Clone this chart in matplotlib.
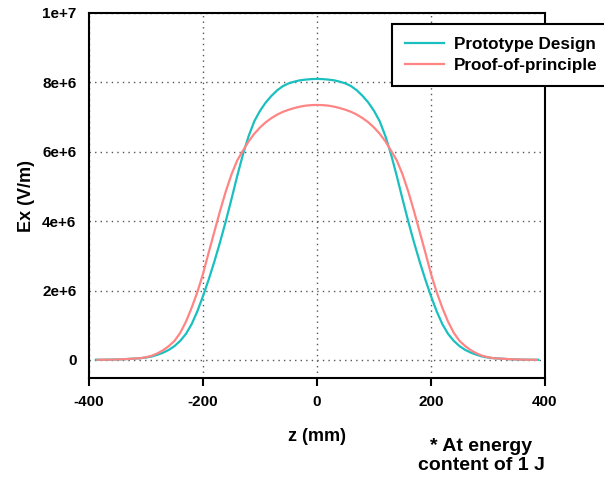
import matplotlib
matplotlib.use("Agg")
import matplotlib.pyplot as plt

plt.rcParams['font.family'] = ['Liberation Sans', 'DejaVu Sans']
plt.rcParams['font.weight'] = 'bold'

# z positions (mm), every ~10 mm
z_proto = [-388, -380, -370, -360, -350, -340, -330, -320, -310, -300, -290, -280, -270,
           -260, -250, -240, -230, -220, -210, -200, -190, -180, -170, -160, -150, -140,
           -130, -120, -110, -100, -90, -80, -70, -60, -50, -40, -30, -20, -10, 0,
           10, 20, 30, 40, 50, 60, 70, 80, 90, 100, 110, 120, 130, 140, 150, 160, 170,
           180, 190, 200, 210, 220, 230, 240, 250, 260, 270, 280, 290, 300, 310, 320,
           330, 340, 350, 360, 370, 380, 388]
# Ex (V/m), Prototype Design
ex_proto = [0.005e6, 0.006e6, 0.008e6, 0.01e6, 0.015e6, 0.02e6, 0.03e6, 0.04e6, 0.05e6,
            0.07e6, 0.10e6, 0.15e6, 0.21e6, 0.29e6, 0.40e6, 0.55e6, 0.75e6, 1.03e6,
            1.40e6, 1.84e6, 2.32e6, 2.84e6, 3.40e6, 4.00e6, 4.64e6, 5.30e6, 5.92e6,
            6.45e6, 6.88e6, 7.18e6, 7.42e6, 7.61e6, 7.77e6, 7.89e6, 7.97e6, 8.02e6,
            8.06e6, 8.08e6, 8.095e6, 8.10e6,
            8.095e6, 8.08e6, 8.06e6, 8.02e6, 7.97e6, 7.89e6, 7.77e6, 7.61e6, 7.42e6,
            7.18e6, 6.88e6, 6.45e6, 5.92e6, 5.30e6, 4.64e6, 4.00e6, 3.40e6, 2.84e6,
            2.32e6, 1.84e6, 1.40e6, 1.03e6, 0.75e6, 0.55e6, 0.40e6, 0.29e6, 0.21e6,
            0.15e6, 0.10e6, 0.07e6, 0.05e6, 0.04e6, 0.03e6, 0.02e6, 0.015e6, 0.01e6,
            0.008e6, 0.006e6, 0.005e6]

z_pop = [-385, -370, -360, -350, -340, -330, -320, -310, -300, -290, -280, -270, -260,
         -250, -240, -230, -220, -210, -200, -190, -180, -170, -160, -150, -140, -130,
         -120, -110, -100, -90, -80, -70, -60, -50, -40, -30, -20, -10, 0,
         10, 20, 30, 40, 50, 60, 70, 80, 90, 100, 110, 120, 130, 140, 150, 160, 170,
         180, 190, 200, 210, 220, 230, 240, 250, 260, 270, 280, 290, 300, 310, 320,
         330, 340, 350, 360, 370, 385]
# Ex (V/m), Proof-of-principle
ex_pop = [0.005e6, 0.008e6, 0.01e6, 0.015e6, 0.02e6, 0.03e6, 0.04e6, 0.05e6, 0.08e6,
          0.12e6, 0.19e6, 0.28e6, 0.40e6, 0.55e6, 0.78e6, 1.10e6, 1.50e6, 1.95e6,
          2.48e6, 3.10e6, 3.70e6, 4.30e6, 4.86e6, 5.35e6, 5.75e6, 6.03e6, 6.30e6,
          6.52e6, 6.70e6, 6.85e6, 6.97e6, 7.07e6, 7.15e6, 7.21e6, 7.26e6, 7.30e6,
          7.33e6, 7.345e6, 7.35e6,
          7.345e6, 7.33e6, 7.30e6, 7.26e6, 7.21e6, 7.15e6, 7.07e6, 6.97e6, 6.85e6,
          6.70e6, 6.52e6, 6.30e6, 6.03e6, 5.75e6, 5.35e6, 4.86e6, 4.30e6, 3.70e6,
          3.10e6, 2.48e6, 1.95e6, 1.50e6, 1.10e6, 0.78e6, 0.55e6, 0.40e6, 0.28e6,
          0.19e6, 0.12e6, 0.08e6, 0.05e6, 0.04e6, 0.03e6, 0.02e6, 0.015e6, 0.01e6,
          0.008e6, 0.005e6]

x_ticks = [-400, -200, 0, 200, 400]
y_ticks = [0, 2e6, 4e6, 6e6, 8e6, 1e7]
y_tick_labels = ['0', '2e+6', '4e+6', '6e+6', '8e+6', '1e+7']

fig = plt.figure(figsize=(6.04, 4.82), dpi=100)
ax = fig.add_axes([89 / 604, 1 - 378 / 482, (545 - 89) / 604, (378 - 13) / 482])

ax.plot(z_proto, ex_proto, color='#1ABFBF', linewidth=1.6, label='Prototype Design')
ax.plot(z_pop, ex_pop, color='#FF8585', linewidth=1.6, label='Proof-of-principle')

ax.set_xlim(-400, 400)
ax.set_ylim(-0.52e6, 1e7)
ax.set_xticks(x_ticks)
ax.set_xticklabels([str(t) for t in x_ticks])
ax.set_yticks(y_ticks)
ax.set_yticklabels(y_tick_labels)
ax.tick_params(axis='x', direction='out', length=6, width=1.5, labelsize=11, pad=6)
ax.tick_params(axis='y', length=0, labelsize=11, pad=9)
for lab in ax.get_xticklabels() + ax.get_yticklabels():
    lab.set_fontweight('bold')

for s in ax.spines.values():
    s.set_linewidth(1.5)

ax.grid(True, linestyle=(0, (1, 3)), color='#555555', linewidth=1)
ax.set_axisbelow(True)

ax.set_xlabel('z (mm)', fontsize=13, fontweight='bold', labelpad=14)
ax.set_ylabel('Ex (V/m)', fontsize=13, fontweight='bold', labelpad=5)

# legend box runs off the right edge, as in the original
leg = fig.legend(loc='upper left', bbox_to_anchor=(392 / 604, 1 - 24 / 482),
                 borderaxespad=0, fancybox=False, edgecolor='black', framealpha=1,
                 prop={'weight': 'bold', 'size': 12.3}, handlelength=2.3,
                 borderpad=0.75, labelspacing=0.35, handletextpad=0.6)
leg.get_frame().set_linewidth(1.5)

fig.text(481 / 604, 1 - 456 / 482, '* At energy\ncontent of 1 J', ha='center', va='center',
         fontsize=14, fontweight='bold', linespacing=1.1)

fig.savefig('out.png', dpi=100)
